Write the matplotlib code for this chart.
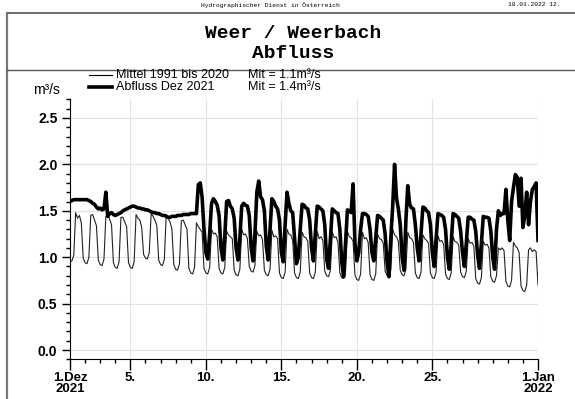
import numpy as np
import matplotlib
matplotlib.use("Agg")
import matplotlib.pyplot as plt
from matplotlib.ticker import MultipleLocator
from matplotlib.lines import Line2D

plt.rcParams['font.family'] = ['Liberation Sans', 'DejaVu Sans']

## values every 3 hours from 1.Dez 00:00, one row per day (0h,3h,...,21h), last value = 1.Jan 00:00
mittel = [
	0.95, 0.96, 1.02, 1.48, 1.42, 1.45, 1.37, 0.99,
	0.94, 0.93, 1.00, 1.45, 1.46, 1.40, 1.34, 0.97,
	0.92, 0.91, 0.98, 1.44, 1.46, 1.41, 1.35, 0.94,
	0.89, 0.88, 0.95, 1.43, 1.43, 1.38, 1.33, 0.94,
	0.89, 0.88, 0.95, 1.46, 1.42, 1.40, 1.32, 1.03,
	0.99, 0.98, 1.05, 1.47, 1.44, 1.40, 1.34, 0.97,
	0.92, 0.91, 0.98, 1.46, 1.42, 1.38, 1.30, 0.92,
	0.87, 0.86, 0.93, 1.39, 1.40, 1.35, 1.30, 0.88,
	0.83, 0.82, 0.89, 1.37, 1.33, 1.30, 1.27, 0.88,
	0.83, 0.82, 0.89, 1.30, 1.25, 1.26, 1.22, 0.88,
	0.83, 0.82, 0.89, 1.28, 1.24, 1.22, 1.20, 0.86,
	0.81, 0.80, 0.87, 1.30, 1.24, 1.25, 1.20, 0.90,
	0.85, 0.84, 0.91, 1.28, 1.23, 1.24, 1.19, 0.86,
	0.81, 0.80, 0.87, 1.29, 1.22, 1.23, 1.20, 0.83,
	0.78, 0.77, 0.84, 1.30, 1.25, 1.24, 1.18, 0.83,
	0.78, 0.77, 0.84, 1.27, 1.22, 1.21, 1.17, 0.83,
	0.78, 0.77, 0.84, 1.28, 1.20, 1.22, 1.18, 0.85,
	0.80, 0.79, 0.86, 1.27, 1.21, 1.22, 1.16, 0.83,
	0.78, 0.77, 0.84, 1.28, 1.22, 1.21, 1.17, 0.81,
	0.76, 0.75, 0.82, 1.27, 1.20, 1.21, 1.16, 0.81,
	0.76, 0.75, 0.82, 1.25, 1.20, 1.19, 1.15, 0.85,
	0.80, 0.79, 0.86, 1.30, 1.24, 1.22, 1.17, 0.86,
	0.81, 0.80, 0.87, 1.27, 1.21, 1.20, 1.16, 0.83,
	0.78, 0.77, 0.84, 1.24, 1.20, 1.18, 1.15, 0.83,
	0.78, 0.77, 0.84, 1.23, 1.17, 1.18, 1.14, 0.82,
	0.77, 0.76, 0.83, 1.22, 1.17, 1.16, 1.13, 0.84,
	0.79, 0.78, 0.85, 1.20, 1.15, 1.16, 1.12, 0.77,
	0.72, 0.71, 0.78, 1.17, 1.13, 1.14, 1.10, 0.79,
	0.74, 0.73, 0.80, 1.10, 1.08, 1.10, 1.07, 0.74,
	0.69, 0.68, 0.75, 1.16, 1.12, 1.10, 1.05, 0.69,
	0.64, 0.63, 0.70, 1.08, 1.10, 1.06, 1.08, 1.06,
	0.70]

abfluss = [
	1.60, 1.61, 1.62, 1.62, 1.62, 1.62, 1.62, 1.62,
	1.62, 1.62, 1.61, 1.60, 1.58, 1.57, 1.54, 1.52,
	1.53, 1.51, 1.52, 1.70, 1.44, 1.47, 1.48, 1.46,
	1.45, 1.46, 1.47, 1.48, 1.50, 1.51, 1.52, 1.53,
	1.54, 1.55, 1.55, 1.54, 1.53, 1.53, 1.52, 1.52,
	1.51, 1.51, 1.50, 1.49, 1.48, 1.48, 1.47, 1.47,
	1.46, 1.45, 1.45, 1.44, 1.43, 1.43, 1.44, 1.44,
	1.44, 1.45, 1.45, 1.45, 1.46, 1.46, 1.46, 1.46,
	1.47, 1.47, 1.47, 1.47, 1.78, 1.80, 1.65, 1.30,
	1.05, 0.98, 1.25, 1.58, 1.63, 1.60, 1.56, 1.45,
	1.10, 0.97, 1.22, 1.60, 1.61, 1.55, 1.52, 1.42,
	1.10, 0.97, 1.20, 1.55, 1.58, 1.56, 1.55, 1.45,
	1.10, 0.96, 1.25, 1.70, 1.82, 1.65, 1.62, 1.50,
	1.12, 0.97, 1.30, 1.63, 1.60, 1.55, 1.52, 1.40,
	1.05, 0.95, 1.35, 1.70, 1.58, 1.50, 1.48, 1.20,
	0.93, 1.00, 1.30, 1.57, 1.56, 1.53, 1.52, 1.40,
	1.10, 0.96, 1.25, 1.55, 1.54, 1.52, 1.50, 1.35,
	0.98, 0.88, 1.20, 1.52, 1.50, 1.48, 1.47, 1.30,
	0.95, 0.79, 1.15, 1.51, 1.50, 1.48, 1.79, 1.15,
	0.96, 1.05, 1.30, 1.47, 1.47, 1.46, 1.44, 1.30,
	1.05, 0.96, 1.20, 1.45, 1.44, 1.42, 1.40, 1.25,
	0.95, 0.79, 1.20, 1.55, 2.00, 1.64, 1.52, 1.35,
	1.00, 0.86, 1.40, 1.77, 1.57, 1.53, 1.52, 1.35,
	1.10, 0.96, 1.25, 1.54, 1.53, 1.50, 1.48, 1.35,
	1.05, 0.90, 1.20, 1.47, 1.46, 1.45, 1.43, 1.30,
	1.00, 0.87, 1.15, 1.47, 1.46, 1.44, 1.42, 1.28,
	1.05, 0.90, 1.15, 1.43, 1.43, 1.41, 1.40, 1.28,
	1.02, 0.88, 1.15, 1.44, 1.43, 1.43, 1.42, 1.28,
	1.00, 0.87, 1.30, 1.50, 1.45, 1.47, 1.47, 1.73,
	1.40, 1.18, 1.60, 1.75, 1.89, 1.86, 1.55, 1.85,
	1.32, 1.45, 1.70, 1.35, 1.60, 1.73, 1.76, 1.80,
	1.18]

tick_days = [0, 4, 9, 14, 19, 24, 31]
tick_labels = ["1.Dez\n2021", "5.", "10.", "15.", "20.", "25.", "1.Jan\n2022"]
y_ticks = [0.0, 0.5, 1.0, 1.5, 2.0, 2.5]

legend_names = ["Mittel 1991 bis 2020", "Abfluss Dez 2021"]
legend_means = ["Mit = 1.1m³/s", "Mit = 1.4m³/s"]

W, H = 575, 399
fig = plt.figure(figsize=(W/100, H/100), dpi=100)

## frame around the whole sheet
fig.add_artist(Line2D([7/W, 1], [1-13/H, 1-13/H], color="#555555", lw=1.2))
fig.add_artist(Line2D([7/W, 7/W], [0, 1-13/H], color="#777777", lw=1.6))
fig.add_artist(Line2D([7/W, 1], [1-70/H, 1-70/H], color="#555555", lw=1.0))

fig.text(270/W, 1-5/H, "Hydrographischer Dienst in Österreich", family="Liberation Mono", fontsize=4.5, ha="center", va="center")
fig.text(508/W, 1-5/H, "18.01.2022 12.", family="Liberation Mono", fontsize=4.5, ha="left", va="center")

fig.text(293/W, 1-33/H, "Weer / Weerbach", family="Liberation Mono", fontweight="bold", fontsize=14, ha="center", va="center")
fig.text(293/W, 1-53/H, "Abfluss", family="Liberation Mono", fontweight="bold", fontsize=14, ha="center", va="center")

## legend, drawn by hand
for i, (name, mean) in enumerate(zip(legend_names, legend_means)):
	yy = 1 - (75 + i*12)/H
	fig.add_artist(Line2D([89/W, 112/W], [yy, yy], color="black", lw=[0.8, 2.6][i]))
	fig.text(116/W, yy, name, fontsize=9, va="center")
	fig.text(248/W, yy, mean, fontsize=9, va="center")

fig.text(33/W, 1-90/H, "m³/s", fontsize=10, va="center")

ax = fig.add_axes([70/W, 1-359.3/H, 468/W, 259.9/H])

t_mittel = np.arange(len(mittel)) * 3 / 24.0
t_abfluss = np.arange(len(abfluss)) * 3 / 24.0

for yv in y_ticks:
	ax.axhline(yv, color="#e2e2e2", lw=0.8, zorder=0)
for d in tick_days:
	ax.axvline(d, color="#e2e2e2", lw=0.8, zorder=0)

ax.plot(t_mittel, mittel, color="#222222", lw=0.8, zorder=3)
ax.plot(t_abfluss, abfluss, color="black", lw=2.6, zorder=4)

ax.set_xlim(0, 31)
ax.set_ylim(-0.1, 2.7)

ax.spines["top"].set_visible(False)
ax.spines["right"].set_visible(False)

ax.set_xticks(tick_days)
ax.set_xticklabels(tick_labels, fontsize=9.5, fontweight="bold", linespacing=0.95)
ax.xaxis.set_minor_locator(MultipleLocator(1))
ax.tick_params(axis="x", which="major", length=8, width=1, pad=1, direction="out")
ax.tick_params(axis="x", which="minor", length=3, width=1, direction="out")

ax.set_yticks(y_ticks)
ax.set_yticklabels(["%.1f" % v for v in y_ticks], fontsize=10, fontweight="bold")
ax.yaxis.set_minor_locator(MultipleLocator(0.1))
ax.tick_params(axis="y", which="major", length=6, width=1, pad=3)
ax.tick_params(axis="y", which="minor", length=3, width=1)

fig.savefig("out.png", dpi=100)
